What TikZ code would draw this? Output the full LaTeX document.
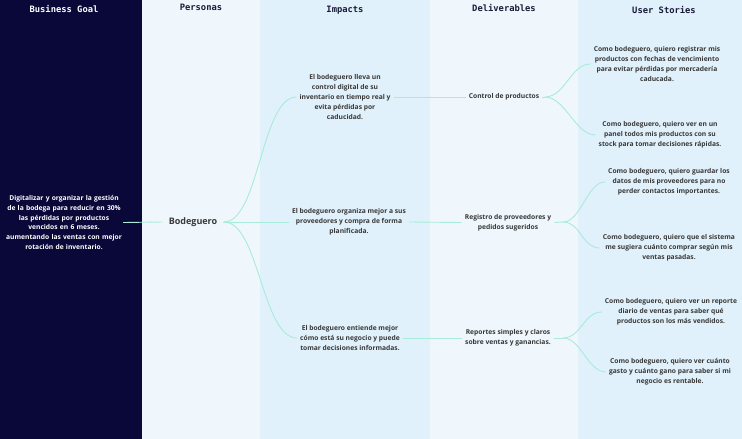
\documentclass[tikz,border=0pt]{standalone}
\usepackage{fontspec}
\setmainfont{Open Sans}
\newfontfamily\hdrfont{DejaVu Sans Mono}
\definecolor{navy}{HTML}{0A0838}
\definecolor{colA}{HTML}{EFF7FC}
\definecolor{colB}{HTML}{E1F1FB}
\definecolor{mint}{HTML}{A8EBD8}
\definecolor{txt}{HTML}{383838}
\definecolor{hdr}{HTML}{1B1B3A}
\tikzset{
  hdrtext/.style={font=\hdrfont\bfseries\fontsize{8.8}{10}\selectfont, text=hdr, inner sep=0pt},
  cardtext/.style={font=\bfseries\fontsize{6.7}{9.8}\selectfont, text=txt, align=center, inner sep=3pt},
  link/.style={draw=mint, line width=0.9pt},
}
\begin{document}
\begin{tikzpicture}[x=1pt,y=-1pt]
\useasboundingbox (0,0) rectangle (742,439);
% columns
\fill[navy] (0,0) rectangle (142,439);
\fill[colA] (142,0) rectangle (260,439);
\fill[colB] (260,0) rectangle (430,439);
\fill[colA] (430,0) rectangle (578,439);
\fill[colB] (578,0) rectangle (742,439);
% headers
\node[hdrtext, text=white] (hgoal) at (64,9) {Business Goal};
\node[hdrtext] (hpers) at (201,7) {Personas};
\node[hdrtext] (himp) at (345,10) {Impacts};
\node[hdrtext] (hdel) at (504,8) {Deliverables};
\node[hdrtext] (hus) at (664,10) {User Stories};
% goal
\node[cardtext, text=white, inner sep=0pt, text width=118pt] (goal) at (64,222.5) {Digitalizar y organizar la gestión\\de la bodega para reducir en 30\%\\las pérdidas por productos\\vencidos en 6 meses.\\aumentando las ventas con mejor\\rotación de inventario.};
% persona
\node[font=\bfseries\fontsize{9}{10}\selectfont, text=txt, inner sep=6pt] (pers) at (193,222) {Bodeguero};
\coordinate (pb) at (224,222);
% impacts
\node[cardtext] (imp1) at (345,97) {El bodeguero lleva un\\control digital de su\\inventario en tiempo real y\\evita pérdidas por\\caducidad.};
\node[cardtext] (imp2) at (349,222) {El bodeguero organiza mejor a sus\\proveedores y compra de forma\\planificada.};
\node[cardtext] (imp3) at (350,338) {El bodeguero entiende mejor\\cómo está su negocio y puede\\tomar decisiones informadas.};
% deliverables
\node[cardtext] (del1) at (504,97) {Control de productos};
\node[cardtext] (del2) at (508,222.5) {Registro de proveedores y\\pedidos sugeridos};
\node[cardtext] (del3) at (508,338) {Reportes simples y claros\\sobre ventas y ganancias.};
\coordinate (db1) at (545,97);
\coordinate (db2) at (563,222);
\coordinate (db3) at (563,338);
% user stories
\node[cardtext] (us1) at (657,64) {Como bodeguero, quiero registrar mis\\productos con fechas de vencimiento\\para evitar pérdidas por mercadería\\caducada.};
\node[cardtext] (us2) at (660,135) {Como bodeguero, quiero ver en un\\panel todos mis productos con su\\stock para tomar decisiones rápidas.};
\node[cardtext] (us3) at (669,182) {Como bodeguero, quiero guardar los\\datos de mis proveedores para no\\perder contactos importantes.};
\node[cardtext] (us4) at (669,248) {Como bodeguero, quiero que el sistema\\me sugiera cuánto comprar según mis\\ventas pasadas.};
\node[cardtext] (us5) at (671,312) {Como bodeguero, quiero ver un reporte\\diario de ventas para saber qué\\productos son los más vendidos.};
\node[cardtext] (us6) at (670,372) {Como bodeguero, quiero ver cuánto\\gasto y cuánto gano para saber si mi\\negocio es rentable.};
% connectors
\draw[link] (goal.east) -- (pers.west);
\draw[link] (pers.east) -- (pb);
\draw[link] (pb) .. controls +(35,0) and +(-35,0) .. (imp1.west);
\draw[link] (pb) -- (imp2.west);
\draw[link] (pb) .. controls +(35,0) and +(-35,0) .. (imp3.west);
\draw[link] (imp1.east) -- (del1.west);
\draw[link] (imp2.east) -- (del2.west);
\draw[link] (imp3.east) -- (del3.west);
\draw[link] (del1.east) -- (db1);
\draw[link] (del2.east) -- (db2);
\draw[link] (del3.east) -- (db3);
\draw[link] (db1) .. controls +(20,0) and +(-20,0) .. (us1.west);
\draw[link] (db1) .. controls +(20,0) and +(-20,0) .. (us2.west);
\draw[link] (db2) .. controls +(18,0) and +(-18,0) .. (us3.west);
\draw[link] (db2) .. controls +(18,0) and +(-18,0) .. (us4.west);
\draw[link] (db3) .. controls +(18,0) and +(-18,0) .. (us5.west);
\draw[link] (db3) .. controls +(18,0) and +(-18,0) .. (us6.west);
\end{tikzpicture}
\end{document}
